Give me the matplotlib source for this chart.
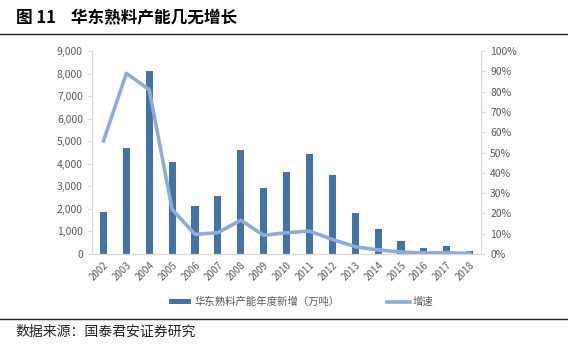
import matplotlib
matplotlib.use("Agg")
import matplotlib.pyplot as plt
from matplotlib.ticker import FuncFormatter, MultipleLocator
from matplotlib.lines import Line2D
from matplotlib.patches import Patch

plt.rcParams['font.family'] = ['Noto Sans CJK SC', 'DejaVu Sans']

years = ['2002', '2003', '2004', '2005', '2006', '2007', '2008', '2009', '2010',
         '2011', '2012', '2013', '2014', '2015', '2016', '2017', '2018']
new_capacity = [1850, 4710, 8100, 4090, 2130, 2570, 4610, 2940, 3620,
                4430, 3520, 1800, 1110, 580, 270, 340, 130]
growth = [0.557, 0.89, 0.81, 0.22, 0.097, 0.105, 0.167, 0.092, 0.105,
          0.113, 0.072, 0.036, 0.02, 0.01, 0.005, 0.006, 0.003]

bar_color = '#4372A8'
line_color = '#8FAAD6'
tick_color = '#595959'
spine_color = '#D9D9D9'

fig = plt.figure(figsize=(5.68, 3.44), dpi=100)
ax = fig.add_axes([0.162, 0.2616, 0.685, 0.59])
ax2 = ax.twinx()

x = list(range(len(years)))
ax.bar(x, new_capacity, width=0.31, color=bar_color, zorder=2)
ax2.plot(x, growth, color=line_color, linewidth=2.6, solid_joinstyle='round', zorder=3)

ax.set_xlim(-0.5, len(years) - 0.5)
ax.set_ylim(0, 9000)
ax2.set_ylim(0, 1.0)
ax.yaxis.set_major_locator(MultipleLocator(1000))
ax2.yaxis.set_major_locator(MultipleLocator(0.1))
ax.yaxis.set_major_formatter(FuncFormatter(lambda v, p: f'{int(v):,}'))
ax2.yaxis.set_major_formatter(FuncFormatter(lambda v, p: f'{int(round(v * 100))}%'))

ax.set_xticks(x)
ax.set_xticklabels(years, rotation=45, ha='right', rotation_mode='anchor')

for a in (ax, ax2):
    for s in a.spines.values():
        s.set_color(spine_color)
    a.spines['top'].set_visible(False)
    a.tick_params(colors=tick_color, labelsize=7.5, length=3, width=0.8)
    a.tick_params(axis='y', color=spine_color)
ax.tick_params(axis='x', length=0, pad=4, labelsize=7)
ax2.spines['left'].set_visible(False)
ax.spines['right'].set_visible(False)
ax.spines['bottom'].set_color('#BFBFBF')

handles = [Patch(facecolor=bar_color, edgecolor='none'),
           Line2D([0], [0], color=line_color, linewidth=2.6)]
labels = ['华东熟料产能年度新增（万吨）', '增速']
fig.legend(handles, labels, loc='center', bbox_to_anchor=(0.53, 0.122),
           ncol=2, frameon=False, fontsize=7.5, labelcolor=tick_color,
           handlelength=2.2, handleheight=0.5, columnspacing=4.5, handletextpad=0.3)

fig.text(0.028, 0.948, '图 11    华东熟料产能几无增长', fontsize=12, fontweight='bold',
         ha='left', va='center', color='black')
fig.add_artist(Line2D([0.0, 1.0], [0.902, 0.902], color='#222222', linewidth=1.0))
fig.add_artist(Line2D([0.0, 1.0], [0.073, 0.073], color='#222222', linewidth=1.0))
fig.text(0.028, 0.035, '数据来源：国泰君安证券研究', fontsize=10, ha='left', va='center',
         color='#222222')

fig.savefig('out.png', dpi=100)
